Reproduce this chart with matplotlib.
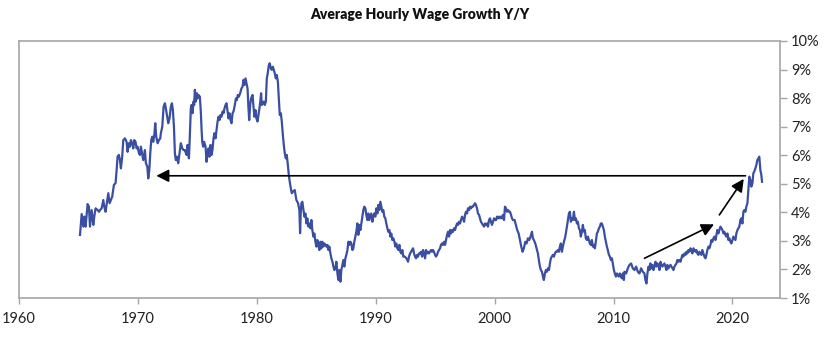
import matplotlib
matplotlib.use("Agg")
import matplotlib.pyplot as plt
from matplotlib.ticker import FuncFormatter

plt.rcParams['font.family'] = ['Lato', 'DejaVu Sans']

# Average hourly wage growth, year over year (%), by fractional year
years = [
    # 1965-1973
    1965.13, 1965.27, 1965.41, 1965.49, 1965.60, 1965.77, 1965.88, 1965.97, 1966.11, 1966.25,
    1966.33, 1966.44, 1966.61, 1966.73, 1966.81, 1966.95, 1967.09, 1967.17, 1967.28, 1967.42,
    1967.51, 1967.62, 1967.73, 1967.84, 1967.98, 1968.12, 1968.21, 1968.29, 1968.40, 1968.49,
    1968.57, 1968.68, 1968.77, 1968.91, 1969.05, 1969.13, 1969.24, 1969.33, 1969.41, 1969.52,
    1969.61, 1969.69, 1969.80, 1969.89, 1969.97, 1970.09, 1970.17, 1970.25, 1970.37, 1970.45,
    1970.53, 1970.59, 1970.67, 1970.79, 1970.87, 1970.96, 1971.04, 1971.12, 1971.21, 1971.29,
    1971.38, 1971.46, 1971.54, 1971.66, 1971.77, 1971.88, 1971.93, 1972.05, 1972.16, 1972.27,
    1972.35, 1972.44, 1972.55, 1972.66, 1972.77, 1972.86, 1972.94, 1973.03, 1973.11, 1973.19,
    1973.28, 1973.39, 1973.50, 1973.61, 1973.73, 1973.84,
    # 1974-1983
    1973.95, 1974.09, 1974.17, 1974.29, 1974.37, 1974.45, 1974.51, 1974.59, 1974.68, 1974.73,
    1974.79, 1974.87, 1974.96, 1975.01, 1975.10, 1975.21, 1975.29, 1975.35, 1975.41, 1975.49,
    1975.57, 1975.69, 1975.77, 1975.85, 1975.94, 1976.02, 1976.11, 1976.19, 1976.27, 1976.36,
    1976.44, 1976.53, 1976.61, 1976.70, 1976.78, 1976.86, 1976.95, 1977.03, 1977.12, 1977.20,
    1977.28, 1977.37, 1977.45, 1977.54, 1977.62, 1977.70, 1977.79, 1977.87, 1977.96, 1978.04,
    1978.15, 1978.24, 1978.32, 1978.40, 1978.49, 1978.60, 1978.71, 1978.80, 1978.88, 1978.96,
    1979.05, 1979.13, 1979.22, 1979.30, 1979.36, 1979.44, 1979.52, 1979.64, 1979.72, 1979.80,
    1979.89, 1979.97, 1980.06, 1980.14, 1980.22, 1980.28, 1980.36, 1980.42, 1980.50, 1980.59,
    1980.67, 1980.76, 1980.84, 1980.92, 1981.01, 1981.09, 1981.18, 1981.26, 1981.35, 1981.43,
    1981.51, 1981.60, 1981.68, 1981.77, 1981.85, 1981.93, 1982.02, 1982.10, 1982.19, 1982.27,
    1982.35, 1982.44, 1982.52, 1982.61, 1982.69, 1982.77, 1982.86, 1982.94, 1983.03,
    # 1983-1992
    1983.19, 1983.33, 1983.47, 1983.58, 1983.64, 1983.69, 1983.75, 1983.83, 1983.92, 1984.00,
    1984.09, 1984.17, 1984.25, 1984.34, 1984.42, 1984.51, 1984.59, 1984.67, 1984.76, 1984.84,
    1984.93, 1985.01, 1985.09, 1985.18, 1985.26, 1985.35, 1985.43, 1985.51, 1985.60, 1985.68,
    1985.77, 1985.85, 1985.94, 1986.02, 1986.10, 1986.19, 1986.27, 1986.36, 1986.44, 1986.52,
    1986.61, 1986.69, 1986.78, 1986.86, 1986.94, 1987.03, 1987.11, 1987.20, 1987.28, 1987.36,
    1987.45, 1987.53, 1987.62, 1987.70, 1987.78, 1987.87, 1987.95, 1988.04, 1988.12, 1988.20,
    1988.29, 1988.37, 1988.46, 1988.54, 1988.62, 1988.71, 1988.79, 1988.88, 1988.96, 1989.04,
    1989.13, 1989.21, 1989.30, 1989.38, 1989.46, 1989.55, 1989.63, 1989.72, 1989.80, 1989.88,
    1989.97, 1990.05, 1990.14, 1990.22, 1990.30, 1990.39, 1990.47, 1990.56, 1990.64, 1990.72,
    1990.81, 1990.89, 1990.98, 1991.06, 1991.15, 1991.23, 1991.31, 1991.40, 1991.48, 1991.57,
    1991.65, 1991.73, 1991.82, 1991.90, 1991.99, 1992.07, 1992.15, 1992.24, 1992.32,
    # 1992-2001
    1992.44, 1992.58, 1992.72, 1992.80, 1992.89, 1992.97, 1993.06, 1993.14, 1993.22, 1993.31,
    1993.39, 1993.48, 1993.56, 1993.64, 1993.73, 1993.81, 1993.90, 1993.98, 1994.06, 1994.15,
    1994.23, 1994.32, 1994.40, 1994.48, 1994.57, 1994.65, 1994.74, 1994.82, 1994.90, 1994.99,
    1995.07, 1995.16, 1995.24, 1995.33, 1995.41, 1995.49, 1995.58, 1995.66, 1995.75, 1995.83,
    1995.91, 1996.00, 1996.08, 1996.17, 1996.25, 1996.33, 1996.42, 1996.50, 1996.59, 1996.67,
    1996.75, 1996.84, 1996.92, 1997.01, 1997.09, 1997.17, 1997.26, 1997.34, 1997.43, 1997.51,
    1997.59, 1997.68, 1997.76, 1997.85, 1997.93, 1998.01, 1998.10, 1998.18, 1998.27, 1998.35,
    1998.43, 1998.52, 1998.60, 1998.69, 1998.77, 1998.85, 1998.94, 1999.02, 1999.11, 1999.19,
    1999.27, 1999.36, 1999.44, 1999.53, 1999.61, 1999.69, 1999.78, 1999.86, 1999.95, 2000.03,
    2000.12, 2000.20, 2000.28, 2000.37, 2000.45, 2000.54, 2000.62, 2000.70, 2000.79, 2000.87,
    2000.96, 2001.04, 2001.12, 2001.21, 2001.29, 2001.38, 2001.46, 2001.54,
    # 2001-2010
    2001.68, 2001.79, 2001.90, 2002.02, 2002.13, 2002.24, 2002.35, 2002.46, 2002.58, 2002.69,
    2002.80, 2002.91, 2003.02, 2003.14, 2003.22, 2003.30, 2003.42, 2003.53, 2003.64, 2003.72,
    2003.81, 2003.89, 2003.98, 2004.06, 2004.14, 2004.23, 2004.31, 2004.40, 2004.48, 2004.57,
    2004.65, 2004.73, 2004.82, 2004.90, 2004.99, 2005.07, 2005.15, 2005.24, 2005.32, 2005.41,
    2005.49, 2005.57, 2005.66, 2005.74, 2005.83, 2005.91, 2005.99, 2006.08, 2006.16, 2006.25,
    2006.33, 2006.41, 2006.50, 2006.58, 2006.67, 2006.75, 2006.83, 2006.92, 2007.00, 2007.09,
    2007.17, 2007.25, 2007.34, 2007.42, 2007.51, 2007.59, 2007.67, 2007.76, 2007.84, 2007.93,
    2008.01, 2008.09, 2008.18, 2008.26, 2008.35, 2008.43, 2008.51, 2008.60, 2008.68, 2008.77,
    2008.85, 2008.93, 2009.02, 2009.10, 2009.19, 2009.27, 2009.36, 2009.44, 2009.52, 2009.61,
    2009.69, 2009.78, 2009.86, 2009.94, 2010.03, 2010.11, 2010.20, 2010.28, 2010.36, 2010.45,
    2010.53, 2010.62, 2010.70, 2010.78, 2010.87,
    # 2011-2022
    2010.92, 2011.06, 2011.20, 2011.34, 2011.48, 2011.62, 2011.76, 2011.90, 2012.04, 2012.18,
    2012.32, 2012.46, 2012.60, 2012.68, 2012.77, 2012.85, 2012.94, 2013.02, 2013.10, 2013.19,
    2013.27, 2013.36, 2013.44, 2013.53, 2013.61, 2013.69, 2013.78, 2013.86, 2013.95, 2014.03,
    2014.11, 2014.20, 2014.28, 2014.37, 2014.45, 2014.53, 2014.62, 2014.70, 2014.79, 2014.87,
    2014.95, 2015.04, 2015.12, 2015.21, 2015.29, 2015.37, 2015.46, 2015.54, 2015.63, 2015.71,
    2015.79, 2015.88, 2015.96, 2016.05, 2016.13, 2016.21, 2016.30, 2016.38, 2016.47, 2016.55,
    2016.63, 2016.72, 2016.80, 2016.89, 2016.97, 2017.05, 2017.14, 2017.22, 2017.31, 2017.39,
    2017.47, 2017.56, 2017.64, 2017.73, 2017.81, 2017.89, 2017.98, 2018.06, 2018.15, 2018.23,
    2018.31, 2018.40, 2018.48, 2018.57, 2018.65, 2018.73, 2018.82, 2018.90, 2018.99, 2019.07,
    2019.16, 2019.24, 2019.32, 2019.41, 2019.49, 2019.58, 2019.66, 2019.74, 2019.83, 2019.91,
    2020.00, 2020.08, 2020.16, 2020.25, 2020.33, 2020.42, 2020.50, 2020.58, 2020.67, 2020.75,
    2020.84, 2020.92, 2021.00, 2021.09, 2021.17, 2021.26, 2021.34, 2021.42, 2021.51, 2021.59,
    2021.68, 2021.76, 2021.84, 2021.93, 2022.01, 2022.10, 2022.18, 2022.26, 2022.35, 2022.43,
    2022.49,
]

growth = [
    # 1965-1973
    3.21, 3.94, 3.50, 3.85, 3.50, 4.29, 4.20, 3.50, 4.08, 3.56,
    3.85, 4.14, 4.08, 4.02, 4.08, 4.14, 4.43, 4.20, 4.02, 4.43,
    4.67, 4.32, 4.43, 4.55, 4.96, 5.02, 5.48, 5.95, 6.01, 5.83,
    5.54, 5.95, 6.53, 6.59, 6.47, 6.12, 6.42, 6.30, 6.53, 6.42,
    6.24, 6.53, 6.47, 6.24, 6.30, 6.07, 6.01, 6.30, 6.01, 5.83,
    6.01, 6.18, 5.72, 5.60, 5.19, 5.48, 6.07, 6.53, 6.65, 6.47,
    6.71, 7.12, 6.65, 6.42, 6.53, 6.59, 6.77, 7.00, 7.70, 7.82,
    7.64, 7.41, 7.12, 7.29, 7.70, 7.82, 7.59, 7.00, 6.07, 5.83,
    5.95, 5.72, 6.07, 6.42, 6.24, 6.18,
    # 1974-1983
    6.18, 6.01, 6.36, 5.89, 6.71, 7.64, 7.76, 7.47, 7.88, 7.76,
    8.29, 7.88, 8.17, 7.99, 8.11, 8.05, 7.53, 6.94, 6.47, 6.30,
    6.47, 6.30, 5.77, 6.01, 6.24, 5.95, 6.36, 6.01, 6.18, 6.59,
    6.77, 6.59, 6.88, 7.18, 7.35, 7.23, 7.41, 7.35, 7.53, 7.47,
    7.64, 7.76, 7.82, 7.53, 7.29, 7.47, 7.23, 7.12, 7.47, 7.53,
    7.76, 7.99, 7.93, 8.11, 8.05, 8.17, 8.34, 8.40, 8.64, 8.46,
    8.69, 8.52, 8.34, 7.64, 7.23, 7.76, 7.99, 8.11, 7.70, 7.35,
    7.58, 7.29, 7.18, 7.41, 7.64, 7.82, 8.17, 7.76, 7.82, 7.88,
    7.76, 7.88, 8.69, 8.87, 9.16, 9.22, 9.04, 8.99, 9.10, 8.99,
    8.87, 8.69, 8.81, 8.58, 7.99, 7.41, 7.47, 7.18, 6.71, 6.36,
    6.07, 5.89, 6.01, 5.66, 5.31, 5.07, 4.84, 4.67, 4.72,
    # 1983-1992
    4.78, 4.43, 4.32, 4.08, 3.27, 3.96, 4.32, 4.37, 4.08, 3.85,
    3.96, 3.61, 3.79, 3.50, 3.61, 3.44, 3.73, 3.38, 3.15, 3.26,
    2.97, 2.80, 3.03, 2.86, 2.68, 2.97, 2.74, 2.97, 2.80, 2.91,
    2.86, 2.80, 2.86, 2.68, 2.80, 2.56, 2.39, 2.27, 2.10, 1.98,
    2.04, 2.27, 1.86, 1.63, 1.98, 1.57, 1.98, 2.16, 2.33, 2.10,
    2.39, 2.51, 2.68, 2.97, 2.86, 2.97, 2.91, 2.68, 2.74, 2.97,
    3.15, 3.32, 3.61, 3.21, 3.56, 3.38, 3.61, 3.85, 4.08, 4.20,
    4.14, 3.91, 3.73, 3.96, 3.73, 3.85, 3.96, 3.67, 3.85, 3.96,
    3.85, 4.14, 3.96, 4.26, 4.08, 4.37, 4.20, 4.02, 4.08, 3.85,
    3.79, 3.61, 3.44, 3.32, 3.38, 3.15, 3.26, 3.03, 3.09, 2.97,
    2.80, 2.91, 2.74, 2.68, 2.86, 2.62, 2.56, 2.68, 2.45,
    # 1992-2001
    2.45, 2.39, 2.27, 2.45, 2.56, 2.62, 2.68, 2.74, 2.56, 2.45,
    2.39, 2.51, 2.45, 2.56, 2.56, 2.62, 2.45, 2.68, 2.56, 2.39,
    2.68, 2.56, 2.62, 2.56, 2.62, 2.68, 2.62, 2.68, 2.62, 2.51,
    2.45, 2.51, 2.62, 2.68, 2.74, 2.86, 2.91, 2.86, 2.97, 2.86,
    3.03, 3.21, 3.32, 3.15, 3.38, 3.26, 3.38, 3.32, 3.44, 3.38,
    3.50, 3.61, 3.56, 3.67, 3.61, 3.73, 3.85, 3.79, 3.67, 3.91,
    4.02, 3.96, 4.14, 4.08, 4.20, 4.14, 4.20, 4.20, 4.26, 4.32,
    4.26, 4.14, 3.96, 3.91, 3.79, 3.67, 3.61, 3.56, 3.50, 3.61,
    3.56, 3.61, 3.50, 3.73, 3.79, 3.67, 3.56, 3.67, 3.79, 3.73,
    3.73, 3.85, 3.79, 3.85, 3.79, 3.85, 3.79, 3.91, 3.73, 4.20,
    4.14, 4.02, 4.08, 4.02, 4.02, 3.91, 3.79, 3.73,
    # 2001-2010
    3.73, 3.56, 3.38, 3.26, 3.03, 2.80, 2.62, 2.74, 2.97, 2.91,
    3.09, 3.03, 3.15, 3.32, 3.09, 3.03, 2.91, 2.74, 2.56, 2.33,
    2.10, 1.98, 1.92, 1.75, 1.63, 1.86, 1.98, 1.92, 2.04, 1.98,
    2.21, 2.39, 2.45, 2.51, 2.45, 2.56, 2.62, 2.62, 2.68, 2.62,
    2.80, 2.91, 2.62, 2.80, 2.97, 3.09, 3.26, 3.50, 3.73, 3.96,
    4.02, 3.67, 3.79, 3.73, 4.02, 3.73, 3.79, 3.61, 3.67, 3.44,
    3.38, 3.15, 3.32, 3.56, 3.32, 3.38, 3.09, 3.03, 3.15, 3.03,
    2.91, 2.86, 3.03, 2.80, 2.86, 2.74, 2.97, 3.26, 3.32, 3.44,
    3.50, 3.61, 3.61, 3.50, 3.38, 3.15, 2.97, 2.80, 2.68, 2.51,
    2.45, 2.33, 2.39, 2.21, 1.98, 1.86, 1.75, 1.86, 1.80, 1.75,
    1.86, 1.75, 1.69, 1.86, 1.63,
    # 2011-2022
    1.92, 1.86, 2.04, 2.16, 2.21, 2.04, 1.98, 2.10, 1.92, 1.86,
    2.04, 1.92, 1.86, 1.63, 1.51, 1.86, 2.10, 1.98, 2.21, 2.04,
    2.16, 1.98, 2.10, 2.27, 2.10, 2.21, 2.16, 1.98, 2.27, 2.16,
    2.10, 2.16, 2.21, 2.10, 1.98, 2.16, 2.04, 2.10, 2.16, 2.10,
    2.04, 1.98, 2.10, 2.16, 2.21, 2.33, 2.27, 2.33, 2.27, 2.39,
    2.51, 2.45, 2.56, 2.51, 2.62, 2.56, 2.68, 2.62, 2.74, 2.68,
    2.56, 2.74, 2.68, 2.62, 2.68, 2.56, 2.51, 2.62, 2.56, 2.51,
    2.68, 2.56, 2.45, 2.39, 2.51, 2.68, 2.80, 2.74, 2.86, 3.03,
    2.97, 3.09, 3.15, 3.03, 3.21, 3.38, 3.26, 3.38, 3.50, 3.44,
    3.38, 3.26, 3.32, 3.21, 3.15, 3.26, 3.03, 3.09, 2.97, 2.91,
    3.03, 3.15, 3.09, 3.03, 3.26, 3.38, 3.44, 3.50, 3.73, 3.79,
    3.61, 4.02, 4.08, 4.02, 4.20, 4.32, 4.78, 5.25, 5.13, 4.90,
    5.02, 5.37, 5.43, 5.54, 5.66, 5.83, 5.89, 5.95, 5.48, 5.31,
    5.07,
]

x_ticks = [1960, 1970, 1980, 1990, 2000, 2010, 2020]
y_ticks = [1, 2, 3, 4, 5, 6, 7, 8, 9, 10]

# Annotation arrows: (start year, start %) -> (end year, end %)
flat_arrow = ((2021.1, 5.28), (1971.55, 5.28))
rise_arrow_1 = ((2012.6, 2.39), (2018.45, 3.58))
rise_arrow_2 = ((2018.9, 3.91), (2020.95, 5.17))

LINE_COLOR = "#3a4ea2"
FRAME_COLOR = "#a6a6a6"
TEXT_COLOR = "#222222"

fig = plt.figure(figsize=(8.4, 3.38), dpi=100)
ax = fig.add_axes([19 / 840, 1 - 298 / 338, (780 - 19) / 840, (298 - 41) / 338])

ax.plot(years, growth, color=LINE_COLOR, lw=1.6, solid_joinstyle="round", zorder=3)

for (x0, y0), (x1, y1) in (flat_arrow, rise_arrow_1, rise_arrow_2):
    ax.annotate(
        "", xy=(x1, y1), xytext=(x0, y0),
        arrowprops=dict(arrowstyle="-|>,head_length=0.75,head_width=0.38",
                        mutation_scale=10, color="black", lw=1.2,
                        shrinkA=0, shrinkB=0),
        zorder=4,
    )

ax.set_xlim(1960, 2024)
ax.set_ylim(1, 10)
ax.set_xticks(x_ticks)
ax.set_yticks(y_ticks)
ax.yaxis.set_major_formatter(FuncFormatter(lambda v, _: f"{v:.0f}%"))

ax.yaxis.tick_right()
ax.tick_params(axis="y", which="both", left=False, right=True, direction="out",
               length=5, width=1, color=FRAME_COLOR, labelsize=10.5,
               labelcolor=TEXT_COLOR, pad=3)
ax.tick_params(axis="x", direction="out", length=4, width=1, color=FRAME_COLOR,
               labelsize=10.5, labelcolor=TEXT_COLOR, pad=6)

for side in ("left", "top", "right", "bottom"):
    ax.spines[side].set_color(FRAME_COLOR)
    ax.spines[side].set_linewidth(1.2)

fig.suptitle("Average Hourly Wage Growth Y/Y", x=0.5, y=0.975,
             fontsize=10, fontweight="heavy", color="#111111")

fig.savefig("out.png", dpi=100)
